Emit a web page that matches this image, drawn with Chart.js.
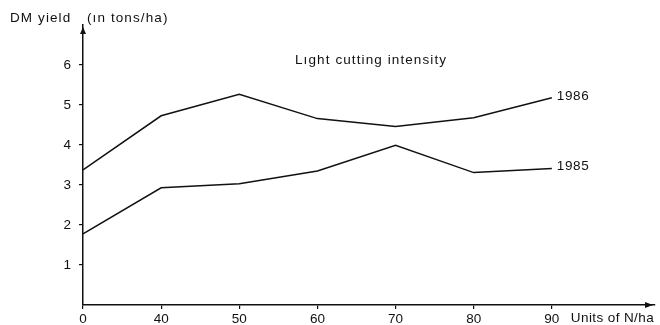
<!DOCTYPE html>
<html>
<head>
<meta charset="utf-8">
<title>DM yield</title>
<script src="https://cdn.jsdelivr.net/npm/chart.js@4/dist/chart.umd.min.js"></script>
<style>
  html, body { margin: 0; padding: 0; background: #fff; }
  #wrap { width: 660px; height: 325px; position: relative; }
</style>
</head>
<body>
<div id="wrap"><canvas id="yieldChart"></canvas></div>
<script>
// Nitrogen levels (units of N/ha), plotted at equal spacing
const nLevels = ['0', '40', '50', '60', '70', '80', '90'];

// DM yield in tons/ha, light cutting intensity
const yield1986 = [3.38, 4.73, 5.27, 4.66, 4.46, 4.68, 5.18];
const yield1985 = [1.78, 2.93, 3.03, 3.35, 3.99, 3.31, 3.41];

const yTicks = [1, 2, 3, 4, 5, 6];

const FONT = 'Liberation Sans, Arial, Helvetica, sans-serif';
const INK = '#111';

function toPoints(values) {
    return values.map((v, i) => ({ x: i, y: v }));
}

// Axis arrows, series names and captions
const annotations = {
    id: 'annotations',
    afterDraw(chart) {
        const { ctx, chartArea, scales } = chart;
        const x = scales.x, y = scales.y;
        const x0 = chartArea.left, y0 = chartArea.bottom;

        ctx.save();
        ctx.strokeStyle = INK;
        ctx.fillStyle = INK;
        ctx.lineWidth = 1.5;

        // y axis arrow
        ctx.beginPath();
        ctx.moveTo(x0, chartArea.top + 2);
        ctx.lineTo(x0 - 3, chartArea.top + 9);
        ctx.lineTo(x0 + 3, chartArea.top + 9);
        ctx.closePath();
        ctx.fill();

        // x axis arrow
        ctx.beginPath();
        ctx.moveTo(chartArea.right - 2, y0);
        ctx.lineTo(chartArea.right - 10, y0 - 3);
        ctx.lineTo(chartArea.right - 10, y0 + 3);
        ctx.closePath();
        ctx.fill();

        ctx.font = '13.5px ' + FONT;
        ctx.letterSpacing = '1.1px';
        ctx.textBaseline = 'middle';
        ctx.textAlign = 'left';
        ctx.fillText('DM yield', 10, 18);
        ctx.fillText('(\u0131n tons/ha)', 87, 18);
        ctx.fillText('L\u0131ght cutting intensity', 295, 60);

        const last = nLevels.length - 1;
        ctx.letterSpacing = '0.6px';
        ctx.fillText('1986', x.getPixelForValue(last) + 5, y.getPixelForValue(yield1986[last]) - 2);
        ctx.fillText('1985', x.getPixelForValue(last) + 5, y.getPixelForValue(yield1985[last]) - 2);

        ctx.letterSpacing = '0.4px';
        ctx.fillText('Units of N/ha', x.getPixelForValue(last) + 19, 318);
        ctx.restore();
    }
};

const lineStyle = {
    borderColor: INK,
    borderWidth: 1.5,
    pointRadius: 0,
    tension: 0,
    fill: false
};

new Chart(document.getElementById('yieldChart'), {
    type: 'line',
    data: {
        datasets: [
            { label: '1986', data: toPoints(yield1986), ...lineStyle },
            { label: '1985', data: toPoints(yield1985), ...lineStyle }
        ]
    },
    options: {
        responsive: true,
        maintainAspectRatio: false,
        animation: false,
        layout: { padding: { top: 25, right: 5, left: 0, bottom: 0 } },
        plugins: {
            legend: { display: false },
            tooltip: { enabled: false }
        },
        scales: {
            x: {
                type: 'linear',
                min: 0,
                max: 7.32,
                afterFit(scale) { scale.height = 20; },
                afterBuildTicks(scale) {
                    scale.ticks = nLevels.map((_, i) => ({ value: i }));
                },
                border: { display: true, color: INK, width: 1.5 },
                grid: {
                    drawOnChartArea: false,
                    drawTicks: true,
                    tickLength: 4,
                    color: INK,
                    lineWidth: 1.2
                },
                ticks: {
                    color: INK,
                    padding: 2,
                    maxRotation: 0,
                    autoSkip: false,
                    font: { family: FONT, size: 13.5 },
                    callback: (v) => nLevels[v]
                }
            },
            y: {
                min: 0,
                max: 7,
                afterFit(scale) { scale.width = 83; },
                afterBuildTicks(scale) {
                    scale.ticks = yTicks.map(v => ({ value: v }));
                },
                border: { display: true, color: INK, width: 1.5 },
                grid: {
                    drawOnChartArea: false,
                    drawTicks: true,
                    tickLength: 4,
                    color: INK,
                    lineWidth: 1.2
                },
                ticks: {
                    color: INK,
                    padding: 8,
                    font: { family: FONT, size: 13.5 },
                    callback: (v) => String(v)
                }
            }
        }
    },
    plugins: [annotations]
});
</script>
</body>
</html>
